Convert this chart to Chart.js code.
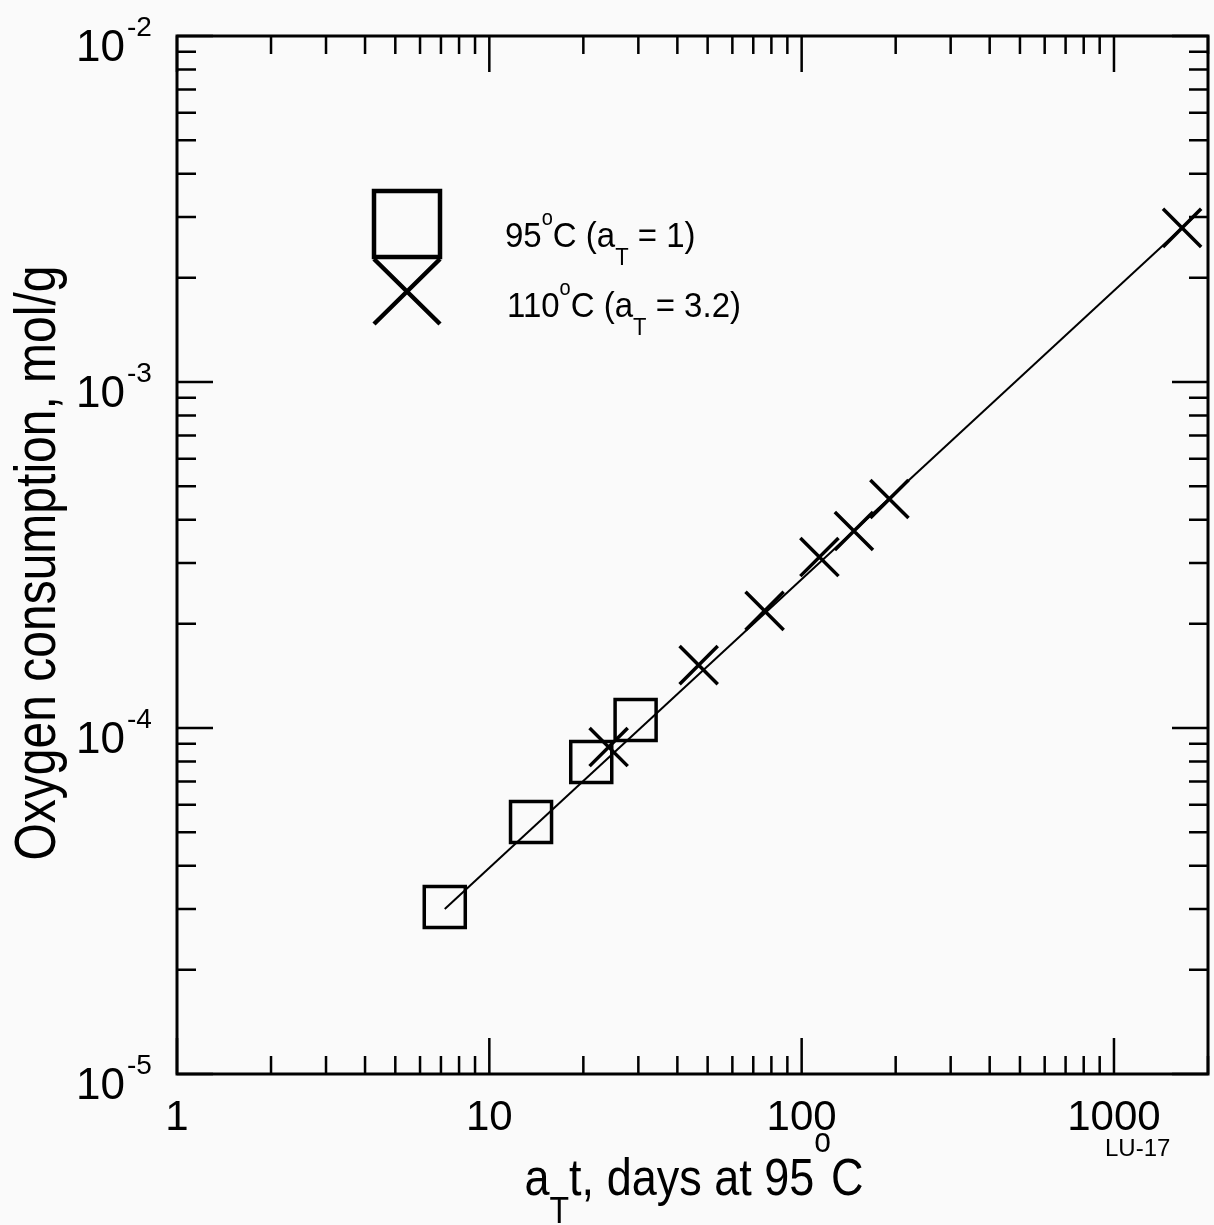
<!DOCTYPE html>
<html>
<head>
<meta charset="utf-8">
<script src="https://cdn.jsdelivr.net/npm/chart.js@4/dist/chart.umd.min.js"></script>
<style>
  html,body{margin:0;padding:0;background:#fafafa;overflow:hidden;}
  #wrap{width:1214px;height:1225px;overflow:hidden;}
  canvas{display:block;}
</style>
</head>
<body>
<div id="wrap"><canvas id="c" width="1250" height="1225"></canvas></div>
<script>
// 95°C (a_T = 1)
const x95 = [7.2, 13.6, 21.2, 29.4];
const y95 = [3.04e-5, 5.35e-5, 7.98e-5, 1.055e-4];
// 110°C (a_T = 3.2), already shifted
const x110 = [24.1, 46.8, 76.1, 114, 147, 191, 1652];
const y110 = [8.81e-5, 1.52e-4, 2.18e-4, 3.12e-4, 3.71e-4, 4.59e-4, 2.79e-3];
// ends of the fitted line
const fitX = [7.2, 1800];
const fitY = [3.0e-5, 3.0e-3];

const xTickVals   = [1, 10, 100, 1000];
const xTickLabels = ['1', '10', '100', '1000'];
const yTickVals   = [1e-5, 1e-4, 1e-3, 1e-2];
const yTickExps   = ['-5', '-4', '-3', '-2'];

const FONT = '"Liberation Sans", Arial, Helvetica, sans-serif';
const pts = (xs, ys) => xs.map((x,i)=> ({x, y: ys[i]}));

// draw text made of pieces [text, size, dy]
function rich(ctx, parts, x, y, align, sy){
  sy = sy || 1;
  ctx.save();
  ctx.translate(x, y);
  ctx.scale(1, sy);
  ctx.textAlign = 'left';
  ctx.textBaseline = 'alphabetic';
  let w = 0;
  parts.forEach(p=>{ ctx.font = p[1]+'px '+FONT; w += ctx.measureText(p[0]).width; });
  let cx = align==='center' ? -w/2 : (align==='right' ? -w : 0);
  parts.forEach(p=>{
    ctx.font = p[1]+'px '+FONT;
    ctx.fillText(p[0], cx, (p[2]||0)/sy);
    cx += ctx.measureText(p[0]).width;
  });
  ctx.restore();
}

const isDecade = v => Math.abs(Math.log10(v) - Math.round(Math.log10(v))) < 1e-6;
const isWhole  = v => { const m = v / Math.pow(10, Math.floor(Math.log10(v)+1e-9)); return Math.abs(m-Math.round(m)) < 1e-6; };

const frame = {
  id: 'frame',
  afterDraw(chart){
    const ctx = chart.ctx, a = chart.chartArea;
    const xs = chart.scales.x, ys = chart.scales.y;
    ctx.save();
    ctx.strokeStyle = '#000';
    ctx.fillStyle = '#000';

    // inward ticks on all four sides
    ctx.lineWidth = 2.5;
    ctx.beginPath();
    xs.ticks.forEach(t=>{
      if(!isWhole(t.value)) return;
      const px = xs.getPixelForValue(t.value);
      const L = isDecade(t.value) ? 36 : 18;
      ctx.moveTo(px, a.bottom); ctx.lineTo(px, a.bottom - L);
      ctx.moveTo(px, a.top);    ctx.lineTo(px, a.top + L);
    });
    ys.ticks.forEach(t=>{
      if(!isWhole(t.value)) return;
      const py = ys.getPixelForValue(t.value);
      const L = isDecade(t.value) ? 36 : 19;
      ctx.moveTo(a.left, py);  ctx.lineTo(a.left + L, py);
      ctx.moveTo(a.right, py); ctx.lineTo(a.right - L, py);
    });
    ctx.stroke();

    ctx.lineWidth = 3;
    ctx.strokeRect(a.left, a.top, a.right - a.left, a.bottom - a.top);

    // tick labels
    ctx.textAlign = 'center';
    ctx.textBaseline = 'alphabetic';
    ctx.font = '42px '+FONT;
    xTickVals.forEach((v,i)=>{
      ctx.fillText(xTickLabels[i], xs.getPixelForValue(v), a.bottom + 56);
    });
    yTickVals.forEach((v,i)=>{
      const py = ys.getPixelForValue(v);
      ctx.font = '44px '+FONT; ctx.textAlign = 'right';
      ctx.fillText('10', 125, py + 25);
      ctx.font = '28px '+FONT; ctx.textAlign = 'left';
      ctx.fillText(yTickExps[i], 127, py);
    });

    // axis titles
    rich(ctx, [['a',45],['T',32,28],['t, days at 95',45],['o',30,-43],['C',45]], 694, 1195, 'center', 1.15);
    ctx.save();
    ctx.translate(55, 563);
    ctx.rotate(-Math.PI/2);
    rich(ctx, [['Oxygen consumption, mol/g',48]], 0, 0, 'center', 1.18);
    ctx.restore();

    ctx.font = '24px '+FONT; ctx.textAlign = 'left';
    ctx.fillText('LU-17', 1105, 1156);

    // legend
    ctx.lineWidth = 4.5;
    ctx.strokeRect(374, 191, 66, 66);
    ctx.beginPath();
    ctx.moveTo(374, 259); ctx.lineTo(440, 324);
    ctx.moveTo(440, 259); ctx.lineTo(374, 324);
    ctx.stroke();
    rich(ctx, [['95',33],['o',20,-22],['C (a',33],['T',22,18],[' = 1)',33]], 505, 247, 'left', 1.08);
    rich(ctx, [['110',33],['o',20,-22],['C (a',33],['T',22,18],[' = 3.2)',33]], 507, 317, 'left', 1.08);
    ctx.restore();
  }
};

new Chart(document.getElementById('c'), {
  type: 'scatter',
  data: {
    datasets: [
      { label: 'fit', data: pts(fitX, fitY), showLine: true, pointRadius: 0,
        borderColor: '#000', borderWidth: 2 },
      { label: '95°C (a_T = 1)', data: pts(x95, y95), pointStyle: 'rect', pointRadius: 29,
        borderColor: '#000', backgroundColor: 'rgba(0,0,0,0)', borderWidth: 3.5 },
      { label: '110°C (a_T = 3.2)', data: pts(x110, y110), pointStyle: 'crossRot', pointRadius: 27,
        borderColor: '#000', backgroundColor: 'rgba(0,0,0,0)', borderWidth: 3.5 }
    ]
  },
  options: {
    responsive: false,
    animation: false,
    devicePixelRatio: 1,
    // canvas is wider than the page so the right padding can cover the point overflow
    layout: { padding: { left: 177, top: 36, right: 42, bottom: 151 } },
    plugins: { legend: { display: false }, tooltip: { enabled: false } },
    scales: {
      x: { type: 'logarithmic', min: 1, max: 2000,
           ticks: { display: false }, grid: { display: false, drawTicks: false }, border: { display: false } },
      y: { type: 'logarithmic', min: 1e-5, max: 1e-2,
           ticks: { display: false }, grid: { display: false, drawTicks: false }, border: { display: false } }
    }
  },
  plugins: [frame]
});
</script>
</body>
</html>
